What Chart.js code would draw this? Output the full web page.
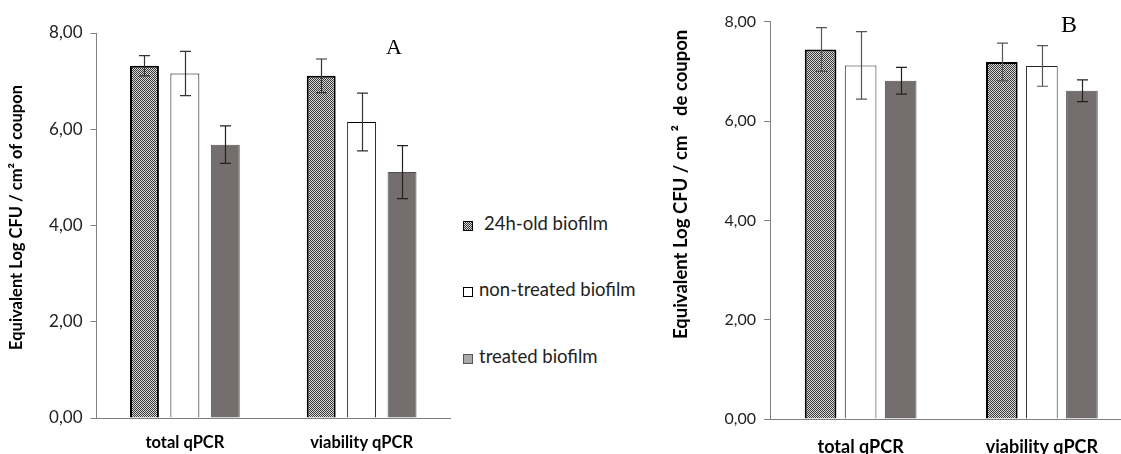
<!DOCTYPE html>
<html>
<head>
    <title>qPCR biofilm charts</title>
    <style>
        html, body { margin: 0; padding: 0; background: #fff; overflow: hidden; }
        #wrap { position: relative; width: 1121px; height: 454px; overflow: hidden; }
        .panel { position: absolute; top: 0; }
        .letter { position: absolute; font-family: "Liberation Serif", serif; color: #000; }
        #legend { position: absolute; left: 463px; top: 210px; font-family: Lato, sans-serif; font-size: 18.5px; color: #222; }
        #legend div { position: absolute; white-space: nowrap; line-height: 22px; }
        #legend span.box { display: inline-block; width: 10px; height: 10px; margin-right: 6px; vertical-align: -1px; box-sizing: border-box; }
    </style>
</head>
<body>
<div id="wrap">
    <canvas id="chartA" class="panel" style="left:0px" width="460" height="454"></canvas>
    <canvas id="chartB" class="panel" style="left:660px" width="480" height="454"></canvas>
    <div class="letter" style="left:386px; top:34px; font-size:22px;">A</div>
    <div class="letter" style="left:1061px; top:11px; font-size:24px;">B</div>
    <div id="legend">
        <div style="top:2px"><span class="box" style="background: repeating-conic-gradient(#3a3a3a 0 25%, #d8d8d8 0 50%) 0 0/2px 2px; border:1px solid #000; margin-right:11px;"></span>24h-old biofilm</div>
        <div style="top:68px"><span class="box" style="background:#fff; border:1px solid #000;"></span>non-treated biofilm</div>
        <div style="top:135px"><span class="box" style="background:#a9a9a9; border:1px solid #555;"></span>treated biofilm</div>
    </div>
</div>
<script src="https://cdn.jsdelivr.net/npm/chart.js@4.4.0/dist/chart.umd.min.js"></script>
<script>
    var categories = ['total qPCR', 'viability qPCR'];
    var seriesNames = ['24h-old biofilm', 'non-treated biofilm', 'treated biofilm'];
    var yTicks = [0, 2, 4, 6, 8];

    // panel A
    var oldA = [7.32, 7.11];
    var nonTreatedA = [7.16, 6.15];
    var treatedA = [5.68, 5.11];
    var oldErrA = [0.21, 0.35];
    var nonTreatedErrA = [0.46, 0.60];
    var treatedErrA = [0.39, 0.55];

    // panel B
    var oldB = [7.44, 7.19];
    var nonTreatedB = [7.12, 7.11];
    var treatedB = [6.81, 6.61];
    var oldErrB = [0.44, 0.38];
    var nonTreatedErrB = [0.68, 0.41];
    var treatedErrB = [0.27, 0.22];

    function makePattern() {
        var c = document.createElement('canvas');
        c.width = 2; c.height = 2;
        var g = c.getContext('2d');
        g.fillStyle = '#d8d8d8';
        g.fillRect(0, 0, 2, 2);
        g.fillStyle = '#3a3a3a';
        g.fillRect(0, 0, 1, 1);
        g.fillRect(1, 1, 1, 1);
        return g.createPattern(c, 'repeat');
    }

    var errorBars = {
        id: 'errorBars',
        afterDatasetsDraw: function(chart) {
            var ctx = chart.ctx;
            var y = chart.scales.y;
            chart.data.datasets.forEach(function(ds, i) {
                var meta = chart.getDatasetMeta(i);
                meta.data.forEach(function(bar, j) {
                    var v = ds.data[j], e = ds.errors[j];
                    var top = y.getPixelForValue(v + e);
                    var bottom = y.getPixelForValue(v - e);
                    var x = Math.round(bar.x) + 0.5;
                    ctx.save();
                    ctx.strokeStyle = ds.errorColor;
                    ctx.lineWidth = 1.2;
                    ctx.beginPath();
                    ctx.moveTo(x, top); ctx.lineTo(x, bottom);
                    ctx.moveTo(x - 5.5, top); ctx.lineTo(x + 5.5, top);
                    ctx.moveTo(x - 5.5, bottom); ctx.lineTo(x + 5.5, bottom);
                    ctx.stroke();
                    ctx.restore();
                });
            });
        }
    };

    function fmt(v) {
        return v.toFixed(2).replace('.', ',');
    }

    function buildChart(id, values, errs, opt) {
        var ctx = document.getElementById(id).getContext('2d');
        var fills = [makePattern(), '#ffffff', '#746f6e'];
        var borders = ['#000000', opt.whiteBorder, '#505050'];
        var widths = [2, 1, 1];
        var datasets = values.map(function(vals, i) {
            return {
                label: seriesNames[i],
                data: vals,
                errors: errs[i],
                errorColor: opt.errColors[i],
                backgroundColor: fills[i],
                borderColor: borders[i],
                borderWidth: widths[i],
                categoryPercentage: opt.catPct,
                barPercentage: opt.barPct
            };
        });
        return new Chart(ctx, {
            type: 'bar',
            data: { labels: categories, datasets: datasets },
            plugins: [errorBars],
            options: {
                responsive: false,
                animation: false,
                layout: { padding: opt.padding },
                plugins: {
                    legend: { display: false },
                    tooltip: { enabled: false }
                },
                scales: {
                    x: {
                        grid: { display: false, drawTicks: false },
                        border: { display: true, color: '#808080', width: 1 },
                        ticks: {
                            color: '#000',
                            padding: opt.xPad,
                            font: { family: 'Lato', weight: 'bold', size: opt.xFont }
                        },
                        afterFit: function(s) { s.height = opt.xHeight; }
                    },
                    y: {
                        min: 0,
                        max: 8,
                        afterBuildTicks: function(s) {
                            s.ticks = yTicks.map(function(v) { return { value: v }; });
                        },
                        grid: { drawOnChartArea: false, tickLength: 6, color: '#808080' },
                        border: { color: '#808080', width: 1 },
                        ticks: {
                            color: '#222',
                            padding: 8,
                            font: { family: 'Lato', size: opt.tickFont },
                            callback: function(v) { return fmt(v); }
                        },
                        title: {
                            display: true,
                            // leading blanks push the rotated title up, as in the source figure
                            text: '\u00a0'.repeat(opt.titleShift) + opt.yTitle,
                            color: '#000',
                            padding: { top: opt.titlePad, bottom: 0 },
                            font: { family: 'Lato', weight: 'bold', size: opt.titleFont }
                        },
                        afterFit: function(s) { s.width = opt.yWidth; }
                    }
                }
            }
        });
    }

    buildChart('chartA',
        [oldA, nonTreatedA, treatedA],
        [oldErrA, nonTreatedErrA, treatedErrA],
        {
            yTitle: 'Equivalent Log CFU / cm\u00b2 of coupon',
            padding: { left: 0, right: 10, top: 33, bottom: 0 },
            yWidth: 96.5, xHeight: 36, xPad: 15, xFont: 16.5,
            tickFont: 17, titlePad: 7, titleFont: 16.5, titleShift: 4,
            catPct: 0.686, barPct: 0.716,
            whiteBorder: '#000000',
            errColors: ['#333', '#333', '#222']
        });

    buildChart('chartB',
        [oldB, nonTreatedB, treatedB],
        [oldErrB, nonTreatedErrB, treatedErrB],
        {
            yTitle: 'Equivalent Log CFU / cm \u00b2  de coupon',
            padding: { left: 0, right: 7.5, top: 21.7, bottom: 0 },
            yWidth: 110, xHeight: 35, xPad: 17, xFont: 18,
            tickFont: 16, titlePad: 10, titleFont: 18.5, titleShift: 16,
            catPct: 0.663, barPct: 0.79,
            whiteBorder: '#222222',
            errColors: ['#555', '#555', '#222']
        });
</script>
</body>
</html>
